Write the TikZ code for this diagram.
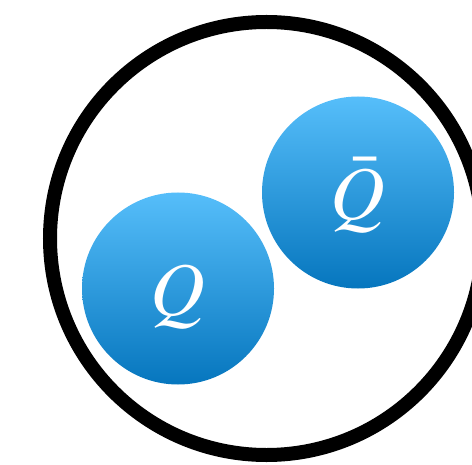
\documentclass[tikz,border=0pt]{standalone}
\usepackage{mathptmx}
\usepackage{tikz}
\definecolor{quarktop}{RGB}{86,190,250}
\definecolor{quarkbot}{RGB}{6,118,190}
\tikzset{
  meson/.style={circle, draw=black, line width=14bp, minimum size=433bp,
                inner sep=0pt},
  quark/.style={circle, minimum size=192bp, inner sep=0pt,
                top color=quarktop, bottom color=quarkbot, text=white,
                font=\fontsize{76}{84}\selectfont,
                text height=65bp, text depth=12bp},
}
\begin{document}
\begin{tikzpicture}[x=1bp, y=-1bp]
  \useasboundingbox (0,0) rectangle (472,465);
  \clip (0,0) rectangle (472,465);
  % bound state
  \node[meson] (pair) at (266.5,238.5) {};
  % constituents
  \node[quark] (q) at (178,288.5) {$Q$};
  \node[quark] (qbar) at (358,192.5) {$\bar{Q}$};
\end{tikzpicture}
\end{document}
